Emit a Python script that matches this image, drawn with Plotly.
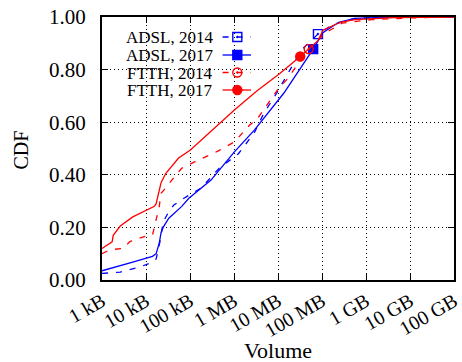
import plotly.graph_objects as go

# ---------------- data ----------------
x_tick_vals = [1e3, 1e4, 1e5, 1e6, 1e7, 1e8, 1e9, 1e10, 1e11]
x_tick_text = ["1 kB", "10 kB", "100 kB", "1 MB", "10 MB", "100 MB", "1 GB", "10 GB", "100 GB"]
y_tick_vals = [0.0, 0.2, 0.4, 0.6, 0.8, 1.0]
y_tick_text = ["0.00", "0.20", "0.40", "0.60", "0.80", "1.00"]

series_names = ["ADSL, 2014", "ADSL, 2017", "FTTH, 2014", "FTTH, 2017"]

adsl14_x = [1.0e3, 2.6e3, 6.5e3, 1.4e4, 1.7e4, 2.1e4, 2.45e4, 3.3e4, 4.3e4, 7.1e4, 1.8e5, 4.6e5,
            1.26e6, 2.9e6, 4.8e6, 9.3e6, 3.4e7, 8.1e7, 1.7e8, 5.6e8, 4.4e9, 1.0e11]
adsl14_y = [0.025, 0.030, 0.047, 0.067, 0.080, 0.150, 0.220, 0.260, 0.285, 0.310, 0.350, 0.425,
            0.480, 0.560, 0.635, 0.710, 0.875, 0.935, 0.970, 0.995, 1.000, 1.000]
adsl14_mark = 17

adsl17_x = [1.0e3, 2.2e3, 5.0e3, 1.4e4, 1.7e4, 2.0e4, 2.2e4, 2.45e4, 3.3e4, 6.5e4, 9.3e4, 3.0e5,
            1.02e6, 2.9e6, 9.3e6, 1.35e7, 6.3e7, 1.05e8, 2.4e8, 5.6e8, 4.4e9, 1.0e11]
adsl17_y = [0.035, 0.050, 0.068, 0.090, 0.100, 0.140, 0.180, 0.200, 0.235, 0.280, 0.310, 0.380,
            0.487, 0.570, 0.673, 0.710, 0.878, 0.940, 0.980, 0.995, 1.000, 1.000]
adsl17_mark = 16

ftth14_x = [1.0e3, 1.5e3, 3.0e3, 4.3e3, 9.1e3, 1.4e4, 1.55e4, 2.0e4, 2.2e4, 2.8e4, 4.8e4, 6.5e4,
            1.3e5, 4.3e5, 1.02e6, 1.3e6, 2.3e6, 3.3e6, 1.1e7, 1.55e7, 5.0e7, 1.2e8, 2.9e8,
            1.35e9, 1.2e10, 1.0e11]
ftth14_y = [0.100, 0.115, 0.120, 0.146, 0.165, 0.170, 0.200, 0.280, 0.330, 0.350, 0.400, 0.425,
            0.450, 0.490, 0.525, 0.545, 0.590, 0.610, 0.735, 0.760, 0.878, 0.940, 0.977,
            0.990, 0.997, 1.000]
ftth14_mark = 20

ftth17_x = [1.0e3, 1.5e3, 1.7e3, 1.8e3, 2.6e3, 5.0e3, 1.55e4, 1.7e4, 2.0e4, 2.2e4, 2.8e4, 5.5e4,
            1.02e5, 5.0e5, 1.02e6, 3.35e6, 1.1e7, 3.2e7, 8.1e7, 1.05e8, 2.6e8, 5.6e8, 4.4e9, 1.0e11]
ftth17_y = [0.120, 0.140, 0.145, 0.170, 0.205, 0.240, 0.280, 0.290, 0.340, 0.370, 0.405, 0.464,
            0.494, 0.600, 0.646, 0.720, 0.785, 0.850, 0.910, 0.950, 0.980, 0.990, 0.998, 1.000]
ftth17_mark = 17

# ---------------- styling ----------------
BLUE = "#0000ff"
RED = "#ff0000"
FONT = "Liberation Serif"
W, H = 462, 362
ML, MR, MT, MB = 102, 1, 17, 82
PW, PH = W - ML - MR, H - MT - MB

styles = [
    dict(color=BLUE, dash="6px,8px", symbol="square-open-dot"),
    dict(color=BLUE, dash="solid", symbol="square"),
    dict(color=RED, dash="6px,8px", symbol="circle-open-dot"),
    dict(color=RED, dash="solid", symbol="circle"),
]
series = [
    (adsl14_x, adsl14_y, adsl14_mark),
    (adsl17_x, adsl17_y, adsl17_mark),
    (ftth14_x, ftth14_y, ftth14_mark),
    (ftth17_x, ftth17_y, ftth17_mark),
]

fig = go.Figure()
for name, (xs, ys, mi), st in zip(series_names, series, styles):
    fig.add_trace(go.Scatter(x=xs, y=ys, mode="lines", name=name, showlegend=False,
                             line=dict(color=st["color"], width=1.3, dash=st["dash"])))
    fig.add_trace(go.Scatter(x=[xs[mi]], y=[ys[mi]], mode="markers", showlegend=False,
                             marker=dict(symbol=st["symbol"], size=9, color=st["color"],
                                         line=dict(color=st["color"], width=1.4))))

# ---------------- custom gnuplot-style legend (text left, sample right) ----------------
def px2fx(px):
    return (px - ML) / PW

def py2fy(py):
    return (MT + PH - py) / PH

row_y = [37, 55, 72.5, 90]
text_right = 216
samp_l, samp_r, samp_m = 225, 254, 240
for name, st, ry in zip(series_names, styles, row_y):
    fig.add_annotation(x=px2fx(text_right), y=py2fy(ry), xref="paper", yref="paper",
                       text=name, showarrow=False, xanchor="right", yanchor="middle",
                       height=16, valign="middle",
                       font=dict(family=FONT, size=17, color="black"), borderpad=0)
    fig.add_trace(go.Scatter(x=[px2fx(samp_l), px2fx(samp_r)], y=[py2fy(ry)] * 2,
                             xaxis="x2", yaxis="y2", mode="lines", showlegend=False,
                             line=dict(color=st["color"], width=1.3, dash=st["dash"])))
    fig.add_trace(go.Scatter(x=[px2fx(samp_m)], y=[py2fy(ry)],
                             xaxis="x2", yaxis="y2", mode="markers", showlegend=False,
                             marker=dict(symbol=st["symbol"], size=9, color=st["color"],
                                         line=dict(color=st["color"], width=1.4))))

# axis titles
fig.add_annotation(x=px2fx(282), y=py2fy(350), xref="paper", yref="paper", text="Volume",
                   showarrow=False, xanchor="center", yanchor="middle", borderpad=0,
                   font=dict(family=FONT, size=22, color="black"))
fig.add_annotation(x=px2fx(19), y=py2fy(150), xref="paper", yref="paper", text="CDF",
                   showarrow=False, textangle=-90, xanchor="center", yanchor="middle",
                   font=dict(family=FONT, size=20, color="black"))

fig.update_layout(
    width=W, height=H, autosize=False,
    margin=dict(l=ML, r=MR, t=MT, b=MB, pad=0),
    paper_bgcolor="white", plot_bgcolor="white",
    showlegend=False,
    xaxis=dict(type="log", range=[3, 11], tickvals=x_tick_vals, ticktext=x_tick_text,
               tickangle=-30, tickfont=dict(family=FONT, size=20, color="black"),
               ticklabeloverflow="allow",
               showgrid=True, gridcolor="black", gridwidth=1, griddash="1px,3px",
               showline=True, linecolor="black", linewidth=2, mirror="allticks",
               ticks="inside", ticklen=6, tickcolor="black", tickwidth=1,
               zeroline=False, ticklabelstandoff=0),
    yaxis=dict(range=[0, 1], tickvals=y_tick_vals, ticktext=y_tick_text,
               tickfont=dict(family=FONT, size=21, color="black"),
               showgrid=True, gridcolor="black", gridwidth=1, griddash="1px,3px",
               showline=True, linecolor="black", linewidth=2, mirror="allticks",
               ticks="inside", ticklen=6, tickcolor="black", tickwidth=1,
               zeroline=False, ticklabelstandoff=10),
    xaxis2=dict(overlaying="x", range=[0, 1], visible=False, fixedrange=True),
    yaxis2=dict(overlaying="y", range=[0, 1], visible=False, fixedrange=True),
)

fig.write_html("out.html")
